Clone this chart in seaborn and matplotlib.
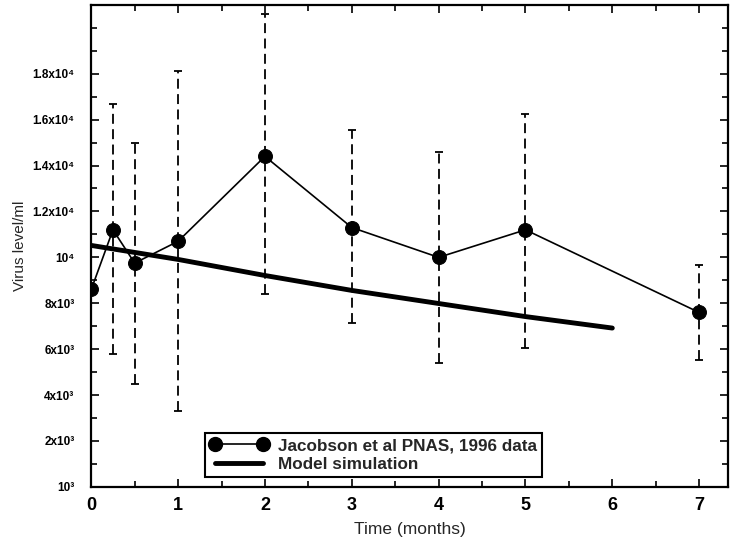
import numpy as np
import pandas as pd
import seaborn as sns
import matplotlib.pyplot as plt
from matplotlib.lines import Line2D
from matplotlib.ticker import MultipleLocator

# datos de Jacobson et al (meses, virus/ml)
meses = [0, 0.25, 0.5, 1, 2, 3, 4, 5, 7]
virus = [8600, 11200, 9750, 10700, 14400, 11300, 10000, 11200, 7600]
virus_sup = [np.nan, 16700, 15000, 18100, 20600, 15550, 14600, 16250, 9650]
virus_inf = [np.nan, 5800, 4500, 3300, 8400, 7150, 5400, 6050, 5550]

# simulacion del modelo
modelo_t = [0, 1, 2, 3, 4, 5, 6]
modelo_v = [10520, 9910, 9210, 8560, 7990, 7420, 6920]

y_ticks = [0, 2000, 4000, 6000, 8000, 10000, 12000, 14000, 16000, 18000]
y_labels = ["10³", "2x10³", "4x10³", "6x10³", "8x10³", "10⁴",
            "1.2x10⁴", "1.4x10⁴", "1.6x10⁴", "1.8x10⁴"]

sns.set_theme(style="ticks")
plt.rcParams['font.family'] = ['Liberation Sans', 'DejaVu Sans']

fig = plt.figure(figsize=(7.3, 5.41), dpi=100)
ax = fig.add_axes([0.125, 0.100, 0.872, 0.891])

df = pd.DataFrame({"t": meses, "v": virus})
dm = pd.DataFrame({"t": modelo_t, "v": modelo_v})

sns.lineplot(data=dm, x="t", y="v", ax=ax, color="black", linewidth=3.5)
sns.lineplot(data=df, x="t", y="v", ax=ax, color="black", linewidth=1.2,
             marker="o", markersize=10, markeredgecolor="black")

v = np.array(virus, dtype=float)
err = [v - np.array(virus_inf), np.array(virus_sup) - v]
eb = ax.errorbar(meses, virus, yerr=err, fmt="none", ecolor="black",
                 elinewidth=1.3, capsize=3, capthick=1.3)
eb[2][0].set_linestyle((0, (5.5, 3)))

ax.set_xlim(0, 7.33)
ax.set_ylim(0, 21000)
ax.set_xticks(range(8))
ax.xaxis.set_minor_locator(MultipleLocator(0.5))
ax.set_yticks(y_ticks)
ax.set_yticklabels(y_labels)
ax.yaxis.set_minor_locator(MultipleLocator(1000))

ax.tick_params(which="both", direction="in", top=True, right=True,
               colors="black", width=1.2)
ax.tick_params(which="major", length=6)
ax.tick_params(which="minor", length=4)
ax.tick_params(axis="x", labelsize=13, pad=7)
ax.tick_params(axis="y", labelsize=8.5, pad=12)
for lab in ax.get_xticklabels() + ax.get_yticklabels():
    lab.set_fontweight("bold")

for s in ax.spines.values():
    s.set_linewidth(1.6)
    s.set_color("black")

ax.set_xlabel("Time (months)", fontsize=12.5, labelpad=6)
ax.set_ylabel("Virus level/ml", fontsize=11, labelpad=4)

handles = [Line2D([], [], color="black", linewidth=1.2, marker="o", markersize=10),
           Line2D([], [], color="black", linewidth=3.5)]
leg = ax.legend(handles, ["Jacobson et al PNAS, 1996 data", "Model simulation"],
                loc="lower left", bbox_to_anchor=(0.179, 0.021), numpoints=2,
                fancybox=False, framealpha=1, edgecolor="black",
                prop={"weight": "bold", "size": 12.3},
                borderpad=0.3, labelspacing=0.2, handlelength=3.4,
                handletextpad=0.55, borderaxespad=0)
leg.get_frame().set_linewidth(1.5)

fig.savefig("out.png", dpi=100)
